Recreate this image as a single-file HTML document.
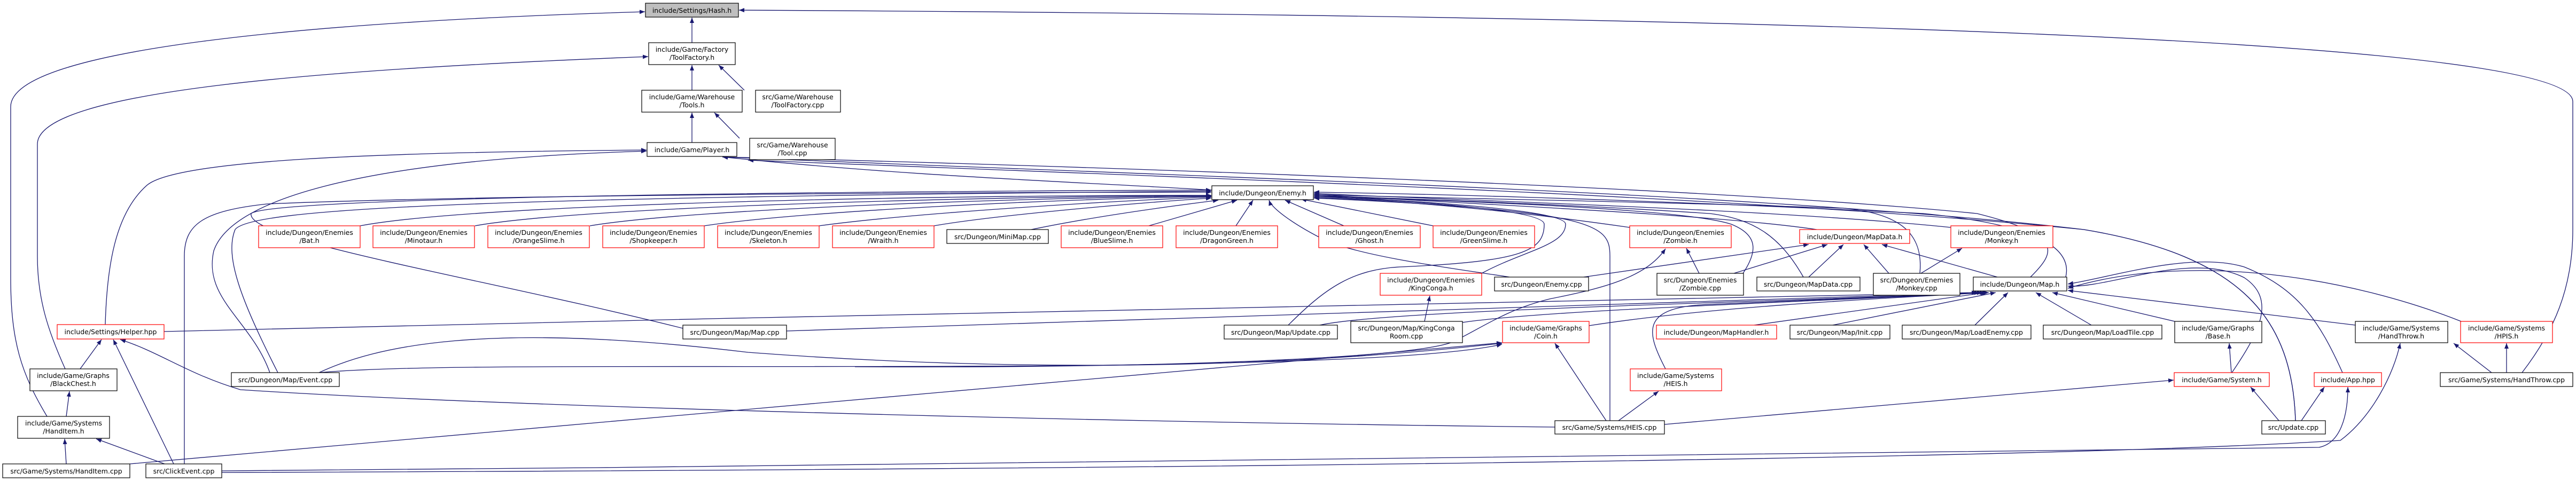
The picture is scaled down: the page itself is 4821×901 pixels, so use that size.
<!DOCTYPE html>
<html><head><meta charset="utf-8">
<style>
html,body{margin:0;padding:0;background:#fff;}
svg{display:block;}
text{font-family:"DejaVu Sans","Liberation Sans",sans-serif;font-size:12.5px;fill:#000;text-anchor:middle;}
.e{fill:none;stroke:#191970;stroke-width:1.3;marker-end:url(#a);}
.n{fill:#fff;stroke:#000;stroke-width:1.2;}
.r{fill:#fff;stroke:#ff0000;stroke-width:1.2;}
.g{fill:#bfbfbf;stroke:#000;stroke-width:1.2;}
</style></head><body>
<svg width="4821" height="901" viewBox="0 0 4821 901" xmlns="http://www.w3.org/2000/svg">
<defs><marker id="a" markerUnits="userSpaceOnUse" markerWidth="11" markerHeight="8" refX="10" refY="4" orient="auto"><path d="M0,0 L10,4 L0,8 z" fill="#191970"/></marker></defs>

<!-- edges -->
<path class="e" d="M1295,80 L1295,33"/>
<path class="e" d="M88,780 C40,700 20,640 20,520 L20,200 C20,90 600,40 1207,22"/>
<path class="e" d="M122,691 C90,620 70,560 70,480 L70,270 C70,170 600,130 1213,106"/>
<path class="e" d="M4720,698 C4780,620 4815,540 4815,430 L4815,190 C4815,80 3500,30 1383,19"/>
<path class="e" d="M1295,169 L1295,122"/>
<path class="e" d="M1393,169 L1345,122"/>
<path class="e" d="M1295,267 L1295,211"/>
<path class="e" d="M1384,259 L1337,211"/>
<path class="e" d="M197,608 C200,500 215,400 275,347 C330,300 700,285 1210,281"/>
<path class="e" d="M505,698 C470,600 380,560 400,470 C430,380 650,300 1210,283"/>
<path class="e" d="M2268,356 C2000,340 1700,330 1352,294"/>
<path class="e" d="M3800,519 C3850,470 3860,440 3700,400 C3200,350 2000,310 1352,294"/>
<path class="e" d="M4296,788 C4290,600 4200,480 3900,430 C3300,360 2200,330 1352,294"/>
<path class="e" d="M4296,788 C4290,600 4200,480 3900,430 C3300,370 2300,335 1400,300"/>

<!-- into Enemy.h -->
<path class="e" d="M674,423 C900,380 1800,365 2267,366"/>
<path class="e" d="M889,423 C1100,385 1900,368 2267,366"/>
<path class="e" d="M1104,423 C1300,390 1950,370 2267,367"/>
<path class="e" d="M1318,423 C1500,395 2000,372 2267,368"/>
<path class="e" d="M1533,423 C1700,400 2050,378 2267,369"/>
<path class="e" d="M1748,423 C1850,405 2100,382 2267,371"/>
<path class="e" d="M1930,430 C2050,405 2200,385 2280,375"/>
<path class="e" d="M2150,423 L2315,375"/>
<path class="e" d="M2313,423 L2345,375"/>
<path class="e" d="M2515,423 L2405,375"/>
<path class="e" d="M2682,423 L2435,373"/>
<path class="e" d="M3050,426 C2800,390 2600,375 2459,370"/>
<path class="e" d="M345,869 L345,480 C345,420 380,395 500,382 C900,365 1800,360 2267,360"/>
<path class="e" d="M520,698 C450,560 420,480 440,430 C470,390 900,370 2267,358"/>
<path class="e" d="M1278,615 C900,520 460,450 470,400 C500,375 1200,360 2267,356"/>
<path class="e" d="M2825,519 C2700,500 2550,480 2480,450 C2420,420 2380,390 2375,375"/>
<path class="e" d="M2411,609 C2480,540 2530,505 2620,500 C2850,490 2890,470 2890,420 C2890,390 2600,375 2459,368"/>
<path class="e" d="M2773,512 C2850,470 2930,460 2930,420 C2930,390 2600,375 2459,366"/>
<path class="e" d="M3013,788 L3013,480 C3013,420 2990,395 2459,371"/>
<path class="e" d="M3400,430 C3200,400 2700,380 2459,364"/>
<path class="e" d="M3651,426 C3300,390 2700,375 2459,362"/>
<path class="e" d="M3262,512 C3290,470 3290,440 3240,420 C3150,390 2700,375 2459,368"/>
<path class="e" d="M3375,519 C3330,440 3280,410 3200,400 C2900,380 2600,372 2459,366"/>
<path class="e" d="M3593,512 C3600,440 3560,400 3450,390 C3000,375 2600,370 2459,364"/>
<path class="e" d="M3866,519 C3880,460 3800,420 3600,400 C3000,370 2600,362 2459,360"/>

<!-- MapData / Monkey / Zombie / KingConga -->
<path class="e" d="M2964,519 L3385,458"/>
<path class="e" d="M3245,512 L3420,458"/>
<path class="e" d="M3385,519 L3450,458"/>
<path class="e" d="M3535,512 L3488,458"/>
<path class="e" d="M3738,519 L3522,458"/>
<path class="e" d="M3595,512 L3672,465"/>
<path class="e" d="M3180,512 L3156,465"/>
<path class="e" d="M1600,687 C2200,690 2650,670 2720,640 C2780,610 2820,580 2900,560 C3000,540 3080,520 3117,466"/>
<path class="e" d="M597,698 C700,650 900,600 1400,660 C1800,690 2300,700 2811,643"/>
<path class="e" d="M597,698 C800,680 1300,690 2000,685 C2400,680 2700,670 2811,645"/>
<path class="e" d="M2666,602 L2676,554"/>

<!-- into Map.h -->
<path class="e" d="M307,621 C1500,590 3000,565 3700,548"/>
<path class="e" d="M1472,620 C2500,585 3300,565 3705,548"/>
<path class="e" d="M2470,609 C2600,580 3300,567 3710,548"/>
<path class="e" d="M2737,604 C2900,580 3400,565 3715,548"/>
<path class="e" d="M2974,610 C3200,575 3500,560 3720,548"/>
<path class="e" d="M3117,691 C3080,620 3070,575 3200,570 C3400,560 3600,552 3722,548"/>
<path class="e" d="M3283,609 L3717,548"/>
<path class="e" d="M3430,609 L3735,548"/>
<path class="e" d="M3696,609 L3758,548"/>
<path class="e" d="M3914,609 L3810,548"/>
<path class="e" d="M4070,602 L3841,548"/>
<path class="e" d="M4408,609 L3870,544"/>
<path class="e" d="M4606,602 C4400,520 4100,470 3870,540"/>
<path class="e" d="M4177,698 C4230,620 4260,560 4200,520 C4100,470 3950,540 3870,536"/>
<path class="e" d="M4384,698 C4340,600 4300,540 4200,500 C4100,470 3950,520 3870,532"/>

<!-- lower -->
<path class="e" d="M3115,795 L4068,712"/>
<path class="e" d="M3029,788 L3104,733"/>
<path class="e" d="M3006,788 L2910,643"/>
<path class="e" d="M2910,800 C2000,790 900,760 450,730 C350,700 300,660 225,636"/>
<path class="e" d="M4176,698 L4172,643"/>
<path class="e" d="M4265,788 L4212,725"/>
<path class="e" d="M4307,788 L4350,725"/>
<path class="e" d="M4663,698 L4592,643"/>
<path class="e" d="M4691,698 L4691,643"/>
<path class="e" d="M415,882 C2000,870 3800,845 4340,838 C4380,830 4394,780 4394,725"/>
<path class="e" d="M415,885 C2000,880 3800,862 4380,825 C4440,780 4480,700 4492,643"/>
<path class="e" d="M243,869 L2811,642"/>
<path class="e" d="M150,691 L190,636"/>
<path class="e" d="M325,869 L212,636"/>
<path class="e" d="M124,780 L130,733"/>
<path class="e" d="M124,869 L121,822"/>
<path class="e" d="M308,869 L180,822"/>

<!-- nodes -->
<rect class="g" x="1208" y="6" width="174" height="26"/><text x="1295" y="24">include/Settings/Hash.h</text>
<rect class="n" x="1214" y="80" width="162" height="41"/><text x="1295" y="97">include/Game/Factory</text><text x="1295" y="112">/ToolFactory.h</text>
<rect class="n" x="1201" y="169" width="188" height="41"/><text x="1295" y="186">include/Game/Warehouse</text><text x="1295" y="201">/Tools.h</text>
<rect class="n" x="1414" y="169" width="159" height="41"/><text x="1493" y="186">src/Game/Warehouse</text><text x="1493" y="201">/ToolFactory.cpp</text>
<rect class="n" x="1211" y="267" width="168" height="26"/><text x="1295" y="285">include/Game/Player.h</text>
<rect class="n" x="1403" y="259" width="160" height="40"/><text x="1483" y="276">src/Game/Warehouse</text><text x="1483" y="291">/Tool.cpp</text>
<rect class="n" x="2268" y="348" width="190" height="26"/><text x="2363" y="366">include/Dungeon/Enemy.h</text>

<rect class="r" x="484" y="423" width="190" height="41"/><text x="579" y="440">include/Dungeon/Enemies</text><text x="579" y="455">/Bat.h</text>
<rect class="r" x="698" y="423" width="190" height="41"/><text x="793" y="440">include/Dungeon/Enemies</text><text x="793" y="455">/Minotaur.h</text>
<rect class="r" x="913" y="423" width="190" height="41"/><text x="1008" y="440">include/Dungeon/Enemies</text><text x="1008" y="455">/OrangeSlime.h</text>
<rect class="r" x="1128" y="423" width="190" height="41"/><text x="1223" y="440">include/Dungeon/Enemies</text><text x="1223" y="455">/Shopkeeper.h</text>
<rect class="r" x="1343" y="423" width="190" height="41"/><text x="1438" y="440">include/Dungeon/Enemies</text><text x="1438" y="455">/Skeleton.h</text>
<rect class="r" x="1558" y="423" width="190" height="41"/><text x="1653" y="440">include/Dungeon/Enemies</text><text x="1653" y="455">/Wraith.h</text>
<rect class="n" x="1772" y="430" width="190" height="26"/><text x="1867" y="448">src/Dungeon/MiniMap.cpp</text>
<rect class="r" x="1986" y="423" width="190" height="41"/><text x="2081" y="440">include/Dungeon/Enemies</text><text x="2081" y="455">/BlueSlime.h</text>
<rect class="r" x="2201" y="423" width="190" height="41"/><text x="2296" y="440">include/Dungeon/Enemies</text><text x="2296" y="455">/DragonGreen.h</text>
<rect class="r" x="2468" y="423" width="190" height="41"/><text x="2563" y="440">include/Dungeon/Enemies</text><text x="2563" y="455">/Ghost.h</text>
<rect class="r" x="2682" y="423" width="190" height="41"/><text x="2777" y="440">include/Dungeon/Enemies</text><text x="2777" y="455">/GreenSlime.h</text>
<rect class="r" x="3050" y="423" width="190" height="41"/><text x="3145" y="440">include/Dungeon/Enemies</text><text x="3145" y="455">/Zombie.h</text>
<rect class="r" x="3368" y="430" width="206" height="26"/><text x="3471" y="448">include/Dungeon/MapData.h</text>
<rect class="r" x="3651" y="423" width="191" height="41"/><text x="3746" y="440">include/Dungeon/Enemies</text><text x="3746" y="455">/Monkey.h</text>

<rect class="r" x="2583" y="512" width="190" height="41"/><text x="2678" y="529">include/Dungeon/Enemies</text><text x="2678" y="544">/KingConga.h</text>
<rect class="n" x="2797" y="519" width="176" height="26"/><text x="2885" y="537">src/Dungeon/Enemy.cpp</text>
<rect class="n" x="3101" y="512" width="162" height="41"/><text x="3182" y="529">src/Dungeon/Enemies</text><text x="3182" y="544">/Zombie.cpp</text>
<rect class="n" x="3288" y="519" width="193" height="26"/><text x="3384" y="537">src/Dungeon/MapData.cpp</text>
<rect class="n" x="3506" y="512" width="162" height="41"/><text x="3587" y="529">src/Dungeon/Enemies</text><text x="3587" y="544">/Monkey.cpp</text>
<rect class="n" x="3693" y="519" width="175" height="26"/><text x="3780" y="537">include/Dungeon/Map.h</text>

<rect class="r" x="107" y="608" width="200" height="27"/><text x="207" y="626">include/Settings/Helper.hpp</text>
<rect class="n" x="1278" y="609" width="194" height="26"/><text x="1375" y="627">src/Dungeon/Map/Map.cpp</text>
<rect class="n" x="2291" y="609" width="212" height="26"/><text x="2397" y="627">src/Dungeon/Map/Update.cpp</text>
<rect class="n" x="2528" y="602" width="209" height="40"/><text x="2632" y="619">src/Dungeon/Map/KingConga</text><text x="2632" y="634">Room.cpp</text>
<rect class="r" x="2812" y="602" width="162" height="40"/><text x="2893" y="619">include/Game/Graphs</text><text x="2893" y="634">/Coin.h</text>
<rect class="r" x="3100" y="609" width="225" height="26"/><text x="3212" y="627">include/Dungeon/MapHandler.h</text>
<rect class="n" x="3350" y="609" width="187" height="26"/><text x="3443" y="627">src/Dungeon/Map/Init.cpp</text>
<rect class="n" x="3560" y="609" width="241" height="26"/><text x="3680" y="627">src/Dungeon/Map/LoadEnemy.cpp</text>
<rect class="n" x="3824" y="609" width="222" height="26"/><text x="3935" y="627">src/Dungeon/Map/LoadTile.cpp</text>
<rect class="n" x="4070" y="602" width="163" height="40"/><text x="4151" y="619">include/Game/Graphs</text><text x="4151" y="634">/Base.h</text>
<rect class="n" x="4408" y="602" width="173" height="40"/><text x="4494" y="619">include/Game/Systems</text><text x="4494" y="634">/HandThrow.h</text>
<rect class="r" x="4605" y="602" width="172" height="40"/><text x="4691" y="619">include/Game/Systems</text><text x="4691" y="634">/HPIS.h</text>

<rect class="n" x="56" y="691" width="163" height="41"/><text x="137" y="708">include/Game/Graphs</text><text x="137" y="723">/BlackChest.h</text>
<rect class="n" x="433" y="698" width="202" height="26"/><text x="534" y="716">src/Dungeon/Map/Event.cpp</text>
<rect class="r" x="3051" y="691" width="171" height="41"/><text x="3136" y="708">include/Game/Systems</text><text x="3136" y="723">/HEIS.h</text>
<rect class="r" x="4069" y="698" width="178" height="26"/><text x="4158" y="716">include/Game/System.h</text>
<rect class="r" x="4331" y="698" width="126" height="26"/><text x="4394" y="716">include/App.hpp</text>
<rect class="n" x="4567" y="698" width="248" height="26"/><text x="4691" y="716">src/Game/Systems/HandThrow.cpp</text>

<rect class="n" x="33" y="780" width="172" height="41"/><text x="119" y="797">include/Game/Systems</text><text x="119" y="812">/HandItem.h</text>
<rect class="n" x="2910" y="788" width="205" height="25"/><text x="3012" y="805">src/Game/Systems/HEIS.cpp</text>
<rect class="n" x="4233" y="788" width="119" height="25"/><text x="4292" y="805">src/Update.cpp</text>

<rect class="n" x="5" y="869" width="238" height="26"/><text x="124" y="887">src/Game/Systems/HandItem.cpp</text>
<rect class="n" x="273" y="869" width="142" height="26"/><text x="344" y="887">src/ClickEvent.cpp</text>
</svg>
</body></html>
